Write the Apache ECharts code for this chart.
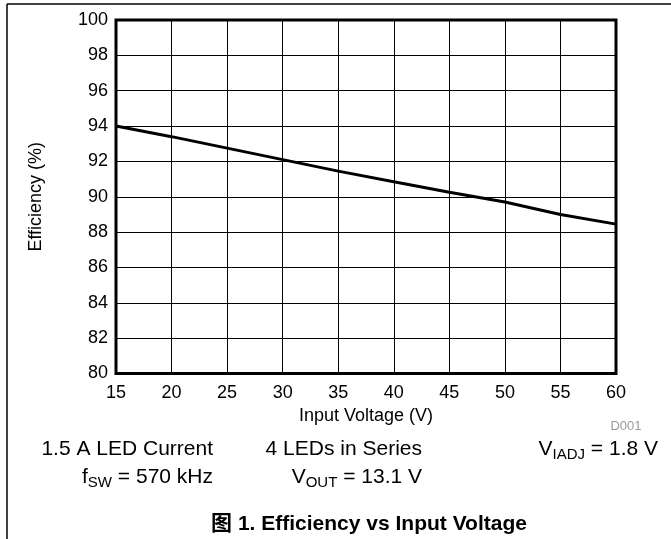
<!DOCTYPE html>
<html>
<head>
<meta charset="utf-8">
<script src="https://cdn.jsdelivr.net/npm/echarts@6/dist/echarts.min.js"></script>
<style>
html,body{margin:0;padding:0;background:#fff;}
#chart{width:671px;height:539px;}
</style>
</head>
<body>
<div id="chart"></div>
<script>
// Data
var inputVoltage = [15, 20, 25, 30, 35, 40, 45, 50, 55, 60];
var efficiency = [94.0, 93.4, 92.75, 92.1, 91.45, 90.85, 90.25, 89.7, 89.0, 88.45];
var xAxisName = 'Input Voltage (V)';
var yAxisName = 'Efficiency (%)';
var titleText = '图 1. Efficiency vs Input Voltage';

var FONT = '"Liberation Sans", Arial, "Noto Sans CJK SC", sans-serif';
var chart = echarts.init(document.getElementById('chart'));

var mainStyle = {fontSize: 21, fontFamily: FONT, color: '#000'};
var subStyle = {fontSize: 15, fontFamily: FONT, color: '#000', padding: [12, 0, 0, 0]};

function note(x, y, text) {
  return {
    type: 'text', x: x, y: y, silent: true,
    style: {
      text: text, align: 'right', verticalAlign: 'middle',
      font: '21px ' + FONT, fill: '#000',
      rich: {m: mainStyle, s: subStyle}
    }
  };
}

var data = inputVoltage.map(function (v, i) { return [v, efficiency[i]]; });

chart.setOption({
  animation: false,
  backgroundColor: '#fff',
  grid: {left: 116, right: 55, top: 20, bottom: 165.5, show: true, borderColor: '#000', borderWidth: 3, backgroundColor: 'transparent'},
  xAxis: {
    type: 'value', min: 15, max: 60, interval: 5,
    name: xAxisName, nameLocation: 'middle', nameGap: 31,
    nameTextStyle: {fontSize: 18, fontFamily: FONT, color: '#000'},
    axisLine: {show: false}, axisTick: {show: false},
    axisLabel: {fontSize: 18, fontFamily: FONT, color: '#000', margin: 11},
    splitLine: {show: true, lineStyle: {color: '#000', width: 1}}
  },
  yAxis: {
    type: 'value', min: 80, max: 100, interval: 2,
    name: yAxisName, nameLocation: 'middle', nameGap: 71, nameRotate: 90,
    nameTextStyle: {fontSize: 18, fontFamily: FONT, color: '#000'},
    axisLine: {show: false}, axisTick: {show: false},
    axisLabel: {fontSize: 18, fontFamily: FONT, color: '#000', margin: 8},
    splitLine: {show: true, lineStyle: {color: '#000', width: 1}}
  },
  series: [{
    type: 'line', data: data, showSymbol: false, symbol: 'none',
    lineStyle: {color: '#000', width: 3}, z: 5
  }],
  graphic: [
    {type: 'line', silent: true, shape: {x1: 7, y1: 4, x2: 671, y2: 4}, style: {stroke: '#000', lineWidth: 1.5}},
    {type: 'line', silent: true, shape: {x1: 7, y1: 4, x2: 7, y2: 539}, style: {stroke: '#000', lineWidth: 1.5}},
    {type: 'text', x: 626, y: 426, silent: true,
     style: {text: 'D001', align: 'center', verticalAlign: 'middle', font: '13px ' + FONT, fill: '#999'}},
    note(213, 449, '{m|1.5 A LED Current}'),
    note(422, 449, '{m|4 LEDs in Series}'),
    note(658, 449, '{m|V}{s|IADJ}{m| = 1.8 V}'),
    note(213, 477, '{m|f}{s|SW}{m| = 570 kHz}'),
    note(422, 477, '{m|V}{s|OUT}{m| = 13.1 V}'),
    {type: 'text', x: 369, y: 524, silent: true,
     style: {text: titleText, align: 'center', verticalAlign: 'middle', font: 'bold 21px ' + FONT, fill: '#000'}}
  ]
});
</script>
</body>
</html>
